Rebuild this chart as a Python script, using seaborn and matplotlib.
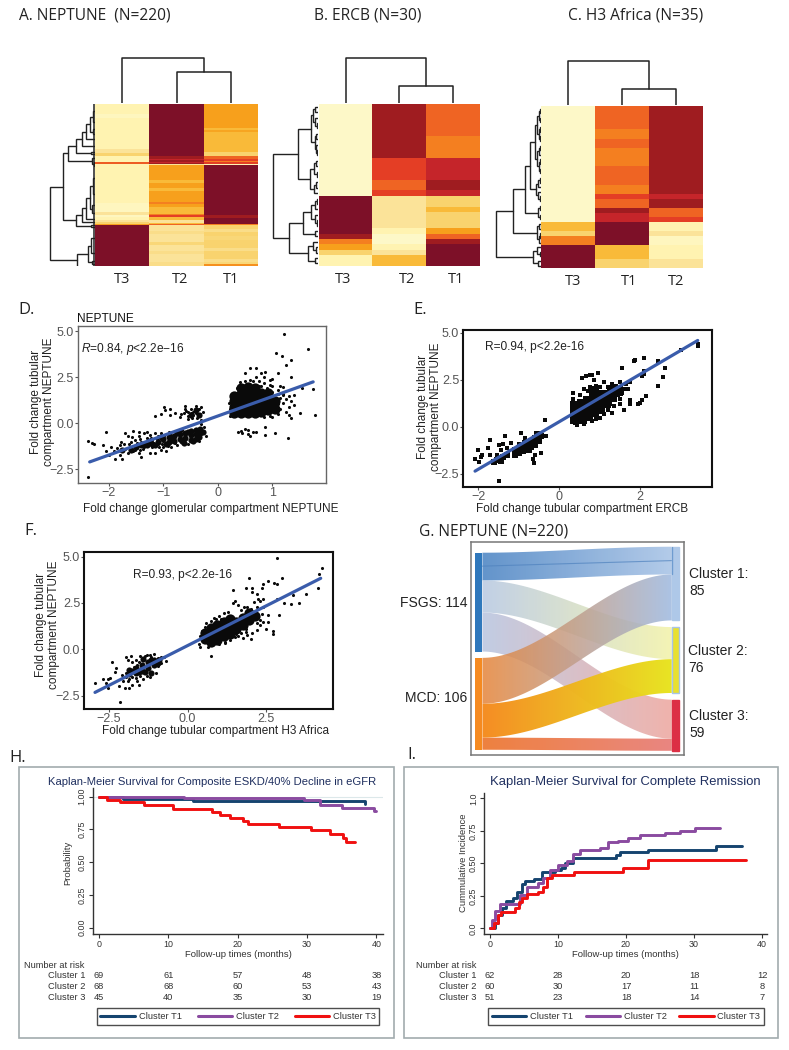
import numpy as np
import pandas as pd
import seaborn as sns
from matplotlib import pyplot as plt
from matplotlib.colors import LinearSegmentedColormap, to_rgb
from matplotlib.lines import Line2D
from matplotlib.patches import PathPatch, Rectangle
from matplotlib.path import Path
from matplotlib.transforms import blended_transform_factory

W, H = 789, 1050

# heatmap columns as (rows, level) runs, top to bottom
a_t3 = [(10, .05), (4, .02), (31, .05), (4, .12), (3, .2), (6, .05), (2, .6), (1, .05), (38, .05), (9, .02), (3, .12),
        (2, .02), (3, .05), (2, .12), (2, .2), (1, .4), (41, 1)]
a_t2 = [(52, 1), (3, .9), (1, .8), (2, .9), (1, .8), (1, .9), (1, .12), (15, .4), (3, .3), (5, .4), (3, .3), (11, .4),
        (2, .5), (3, .4), (7, .3), (1, .5), (2, .68), (3, .3), (3, .12), (1, .3), (1, .58), (6, .12), (3, .15), (8, .12),
        (3, .18), (6, .12), (3, .15), (8, .12), (4, .15)]
a_t1 = [(24, .4), (2, .3), (2, .38), (3, .3), (17, .3), (4, .2), (3, .58), (2, .68), (1, .5), (2, .68), (1, .05), (50, 1),
        (3, .9), (6, 1), (1, .5), (4, .2), (3, .15), (4, .2), (4, .18), (8, .2), (3, .15), (8, .2), (3, .15), (2, .18), (2, .45)]
b_t3 = [(17, 0), (7, 1), (1, .9), (1, .5), (1, .4), (1, .2), (2, .05)]
b_t2 = [(10, .9), (4, .68), (2, .58), (1, .68), (6, .12), (1, .05), (2, 0), (1, .05), (1, .12), (2, .3)]
b_t1 = [(6, .58), (4, .5), (4, .8), (2, .9), (1, .8), (2, .2), (1, .3), (3, .2), (1, .4), (1, .58), (1, .9), (4, 1)]
c_t3 = [(25, 0), (2, .3), (1, .2), (2, .5), (5, 1)]
c_t1 = [(5, .58), (2, .5), (2, .58), (4, .5), (4, .58), (2, .5), (1, .68), (2, .58), (1, .9), (2, .8), (5, 1), (3, .3), (2, .2)]
c_t2 = [(19, .9), (1, .8), (2, .9), (2, .58), (1, .68), (2, .05), (1, .12), (2, .02), (3, .05), (2, .12)]

# dendrograms: (merge height, child, child), a bare number is a leaf of that many rows
col_a = (45, 1, (31, 1, 1))
col_b = (46, 1, (17, 1, 1))
col_c = (44, 1, (16, 1, 1))
row_a = (45,
         (32,
          (27, (19, (13, (9, (5, (2, 14, 8), (2, 6, 4)), 6), 8), (4, 3, 2)), (3, 5, (1, 4, 4))),
          (19, (13, (9, (5, (2, 20, 12), (3, 10, 6)), 5), 2), (4, 3, 2))),
         (18, (7, (4, 20, 10), (3, 5, 2)), (1, 2, 2)))
row_b = (46,
         (20,
          (7, (5, (3, 1, 1), (3, 1, (1, 1, 1))), (3, (2, 1, 1), (2, 1, (1, 1, 1)))),
          (8, (4, (2, 1, 1), (1, 1, 1)), (4, (2, 1, 1), 1))),
         (30,
          (15, (7, (3, (1, 1, 1), 1), (3, 1, (1, 1, 1))), (3, 1, 1)),
          (10, (5, 1, (2, 1, 1)), (3, 1, 1))))
row_c = (45.6,
         (27.6,
          (16,
           (11,
            (6, (4, (2, (1, 1, 1), (1, 1, 1)), (2, (1, 1, 1), (1, 1, 1))), (4, (2, (1, 1, 1), 1), (2, (1, 1, 1), (1, 1, 1)))),
            (5, (3, (1, 1, 1), 1), (3, 1, (1, 1, 1)))),
           (3, (1, 1, 1), (1, 1, 1))),
          (4, (2, 1, 1), (2, (1, 1, 1), 1))),
         (8, (4, 1, (1, 1, 1)), (3, 1, 1)))

# scatter clouds, hand read. core = solid part of the cloud drawn with wider dots
d_core = [(.3, .55), (.3, .9), (.3, 1.2), (.3, 1.5), (.42, .55), (.42, .9), (.42, 1.25), (.42, 1.6), (.42, 1.9), (.55, .55),
          (.55, .9), (.55, 1.25), (.55, 1.65), (.55, 1.95), (.68, .55), (.68, .9), (.68, 1.25), (.68, 1.6), (.68, 1.9), (.8, .6),
          (.8, .95), (.8, 1.3), (.8, 1.65), (.93, .7), (.93, 1.0), (.93, 1.35), (.93, 1.65), (1.05, .75), (1.05, 1.2)]
d_mid = [(-.32, -.3), (-.32, -.55), (-.4, -.35), (-.4, -.6), (-.4, -.85), (-.5, -.4), (-.5, -.65), (-.5, -.9), (-.6, -.55),
         (-.6, -.8), (-.7, -.6), (-.7, -.85), (-.8, -.7), (-.8, -.95), (-.9, -.75), (-.9, -1.0), (-1.0, -.85), (-1.1, -1.0),
         (-.28, -.45), (-.62, -1.05), (-1.2, -1.1), (-1.35, -1.15), (-1.5, -1.3), (-1.75, -1.45), (-.35, -.75), (-.45, -.95),
         (-.55, -.45), (-.65, -.95), (-.75, -.55), (-.85, -.9), (-.95, -1.1), (-1.05, -.75), (-1.15, -1.2), (-1.25, -.95),
         (-1.3, -1.2), (-1.4, -1.2), (-1.6, -1.45), (-.5, .45), (-.4, .7), (-.35, .45)]
d_small = [(-2.38, -.95), (-2.3, -1.05), (-2.28, -1.15), (-2.38, -2.9), (-2.05, -.5), (-2.1, -1.2), (-2.05, -1.5), (-2.0, -1.7),
           (-1.95, -1.3), (-1.9, -1.5), (-1.88, -1.95), (-1.8, -1.7), (-1.8, -1.2), (-1.78, -1.0), (-1.75, -1.95), (-1.7, -.55),
           (-1.7, -1.4), (-1.65, -1.6), (-1.65, -.7), (-1.6, -1.0), (-1.6, -1.3), (-1.55, -.4), (-1.55, -1.5), (-1.52, -.9),
           (-1.5, -1.2), (-1.45, -.5), (-1.45, -.7), (-1.45, -1.6), (-1.4, -1.0), (-1.4, -1.85), (-1.38, -1.4), (-1.35, -.55),
           (-1.35, -1.3), (-1.3, -.8), (-1.3, -.5), (-1.28, -1.1), (-1.25, -1.6), (-1.25, -.65), (-1.2, -1.3), (-1.2, -.9),
           (-1.15, -.55), (-1.15, -1.6), (-1.1, -.7), (-1.1, -1.15), (-1.05, -1.45), (-1.05, -.55), (-1.0, -.95), (-1.0, -1.3),
           (-.95, -1.5), (-.9, -.5), (-.9, -1.1), (-.85, -1.3), (-.85, -.7), (-.75, -1.2), (-.7, -.4), (-.65, -.35), (-.55, -1.1),
           (-.3, -.05), (-.25, -.2), (-.22, -.7), (-.35, -.95), (-1.58, -.75), (-1.48, -1.05), (-1.42, -.85), (-1.32, -1.05),
           (-1.22, -.8), (-1.18, -1.05), (-1.12, -.85), (-1.08, -1.3), (-.98, -.7), (-.92, -1.25), (-.78, -1.05), (-.72, -.45),
           (-1.85, -1.35), (-1.72, -1.15), (-1.62, -1.15), (-1.52, -1.45), (-1.42, -1.45), (-1.02, -1.15), (-.88, -.6),
           (-1.15, .4), (-1.05, .5), (-.98, .9), (-.97, .7), (-.88, .75), (-.87, .45), (-.78, .55), (-.7, .35), (-.68, .5),
           (-.62, .55), (-.6, .95), (-.6, .8), (-.58, .65), (-.55, .4), (-.55, .25), (-.5, .55), (-.5, .8), (-.48, .3), (-.45, .45),
           (-.42, .7), (-.4, .95), (-.4, .55), (-.38, .3), (-.35, .8), (-.33, .5), (-.3, .9), (-.28, .6), (-.3, .2), (-.55, .6),
           (-.45, .6),
           (1.22, 4.85), (1.65, 4.05), (1.07, 3.8), (1.17, 3.65), (1.25, 3.15), (1.35, 3.45), (.6, 3.0), (.7, 3.0), (.8, 2.75),
           (.87, 2.8), (.5, 2.75), (1.1, 2.75), (1.0, 2.4), (1.35, 2.5), (1.55, 1.9), (1.75, 1.85), (1.78, .45), (1.5, .55),
           (1.35, .3), (1.3, 1.5), (1.4, 1.55), (1.2, 1.6), (1.28, -.8), (1.05, -.55), (.87, -.65), (.87, -.2), (.38, -.5),
           (.42, -.4), (.5, -.3), (.55, -.6), (.6, -.7), (.65, -.5), (.7, -.45), (.45, -.55), (.55, -.35), (.3, 1.6), (.35, 1.9),
           (.45, 2.1), (.5, 2.3), (.55, 2.05), (.65, 2.3), (.7, 2.5), (.75, 2.05), (.85, 2.2), (.9, 1.9), (.95, 2.1), (.85, 2.5),
           (1.0, 1.7), (1.1, 1.8), (1.15, .8), (1.2, 1.1), (1.1, .5), (1.0, .35), (1.25, .6), (1.3, .9), (1.3, .45), (1.15, 2.0),
           (1.2, 1.95), (1.4, 1.0), (1.25, 1.3), (.22, .4), (.22, .8), (.95, .4), (.85, .35), (1.15, 1.35), (1.1, 1.05), (1.35, 1.2),
           (.75, 2.3), (.6, 2.35), (.4, 2.25), (.95, 2.35), (1.2, 1.55), (1.1, 1.6), (1.0, 2.0), (.8, 2.0), (.2, 1.1)]
e_core = [(.4, .4), (.4, .75), (.4, 1.1), (.55, .4), (.55, .8), (.55, 1.2), (.7, .6), (.7, 1.0), (.7, 1.4), (.85, .8), (.85, 1.2),
          (.85, 1.65), (1.0, .95), (1.0, 1.35), (1.0, 1.7), (1.15, 1.3), (1.15, 1.7), (1.3, 1.6), (1.3, 1.95), (1.45, 1.9), (.85, 1.9)]
e_mid = [(-.45, -.5), (-.5, -.75), (-.6, -.6), (-.6, -.95), (-.7, -.75), (-.7, -1.05), (-.8, -.85), (-.8, -1.15), (-.9, -1.0),
         (-.9, -1.3), (-1.0, -1.1), (-1.0, -1.4), (-1.1, -1.25), (-1.1, -1.5), (-1.4, -1.6), (-1.45, -1.8), (-1.55, -1.75),
         (-1.6, -1.85), (-1.3, -1.5), (-.55, -.4), (-.65, -.85), (-.75, -1.25), (-.85, -.85), (-.95, -1.15), (-1.05, -1.3)]
e_small = [(-2.08, -1.7), (-2.0, -1.25), (-1.97, -1.85), (-1.93, -1.6), (-1.9, -1.5), (-1.77, -1.1), (-1.7, -.7), (-1.7, -1.5),
           (-1.55, -1.5), (-1.5, -.95), (-1.45, -1.2), (-1.4, -.9), (-1.5, -2.85), (-1.35, -.5), (-1.2, -.85), (-1.3, -1.1),
           (-1.0, -.9), (-.95, -.3), (-.6, -1.5), (-.65, -1.7), (-.62, -1.9), (-.45, -1.4), (-.35, .35), (-.33, -.5), (-.75, -1.3),
           (-.85, -.6), (.33, 1.8), (.33, 1.5), (.35, 1.2), (.38, .2), (.45, .1), (.55, 2.6), (.65, 2.7), (.75, 2.75), (.8, 2.75),
           (.85, 2.5), (.95, 2.85), (.9, .4), (1.0, .5), (1.1, .7), (1.2, .9), (1.3, .75), (1.25, 1.2), (1.35, 1.1), (1.45, 1.7),
           (1.5, 1.2), (1.6, .9), (1.65, 2.3), (1.7, 2.0), (1.75, 1.2), (1.75, 1.45), (1.55, 3.15), (1.85, 3.5), (1.88, 3.55),
           (2.1, 3.65), (1.75, 2.4), (2.05, 2.7), (2.1, 2.8), (2.0, 1.3), (2.05, 1.45), (1.95, 1.2), (2.15, 1.65), (2.1, 3.0),
           (2.45, 2.2), (2.55, 2.65), (2.6, 3.15), (2.45, 3.5), (3.0, 4.1), (3.42, 4.3), (3.42, 4.4), (1.4, 2.2), (1.5, 2.4),
           (1.3, 2.3), (1.2, 2.1), (1.6, 2.0), (.7, 1.9), (.9, 2.2), (1.1, 2.4), (.5, 1.7), (.6, 2.0), (.6, .15), (.8, .3),
           (1.0, 2.1), (.75, 2.1), (1.5, 1.5), (1.55, 1.8)]
f_core = [(.55, .55), (.55, .9), (.75, .4), (.75, .8), (.75, 1.15), (.95, .5), (.95, .9), (.95, 1.3), (1.15, .7), (1.15, 1.1),
          (1.15, 1.5), (1.35, .85), (1.35, 1.25), (1.35, 1.65), (1.55, 1.1), (1.55, 1.5), (1.75, 1.3), (1.75, 1.7), (1.95, 1.6),
          (1.95, 1.95), (2.15, 1.8)]
f_mid = [(-.9, -.55), (-1.05, -.55), (-1.05, -.85), (-1.25, -.7), (-1.25, -1.0), (-1.45, -.85), (-1.45, -1.15), (-1.65, -1.0),
         (-1.65, -1.3), (-1.85, -1.1), (-1.85, -1.35), (-1.4, -.5), (-1.15, -1.3), (-.95, -.75), (-1.15, -.6), (-1.35, -1.2),
         (-1.55, -1.2), (-1.75, -1.15)]
f_small = [(-2.94, -1.8), (-2.68, -1.6), (-2.52, -1.6), (-2.6, -1.8), (-2.47, -1.55), (-2.52, -2.1), (-2.39, -.7), (-2.26, -1.0),
           (-2.29, -1.2), (-2.15, -2.85), (-2.17, -2.0), (-2.08, -1.4), (-2.05, -1.7), (-2.0, -2.1), (-1.95, -1.25), (-1.95, -.4),
           (-1.9, -.6), (-1.9, -1.7), (-1.85, -2.1), (-1.8, -.35), (-1.75, -1.9), (-1.75, -.7), (-1.65, -.55), (-1.6, -1.7),
           (-1.55, -1.9), (-1.5, -.35), (-1.4, -1.6), (-1.3, -.3), (-1.2, -.3), (-1.2, -1.5), (-1.05, -.25), (-.95, -.9), (-.85, -.75),
           (-.75, -.4), (-.7, -.65), (-.85, -.4), (-1.55, -.7), (-1.0, -1.3), (-1.95, -1.5), (-1.85, -1.6), (-1.75, -1.5),
           (-1.65, -1.55), (-1.5, -1.45), (-1.6, -.85), (-1.7, -.95), (-1.35, -.35), (-1.15, -.4), (-.95, -.45), (-1.3, -1.45),
           (.75, -.35), (.35, .3), (.4, .7), (.45, 1.0), (.55, 1.2), (.6, 1.4), (.75, 1.55), (.85, 1.7), (1.0, 1.8), (1.05, 1.65),
           (1.0, .3), (1.2, .35), (1.35, .5), (1.5, .65), (1.6, .7), (1.7, .9), (1.9, .8), (2.0, .55), (2.05, .9), (1.85, 1.1),
           (2.2, 1.05), (2.3, 1.3), (2.5, 1.1), (2.55, 1.5), (2.55, 1.85), (2.4, 2.3), (2.3, 2.6), (2.25, 2.7), (2.4, 2.7), (2.1, 2.55),
           (1.9, 2.3), (1.7, 2.1), (1.6, 2.4), (1.5, 2.6), (1.45, 2.5), (1.45, 3.2), (2.2, 3.0), (2.05, 3.3), (1.85, 3.3), (1.95, 3.85),
           (2.4, 3.5), (2.55, 3.7), (2.75, 3.6), (2.85, 3.5), (2.9, 1.85), (3.0, 3.85), (2.85, 2.7), (3.05, 2.5), (3.3, 2.45),
           (3.35, 2.95), (3.55, 2.5), (3.75, 3.0), (4.14, 3.3), (4.17, 4.05), (4.27, 4.4), (2.85, 4.9), (2.35, 3.3), (2.05, 3.1),
           (2.7, 1.0), (2.7, .85), (2.4, 1.5), (2.2, 2.3), (2.0, 2.15), (1.75, .6), (1.3, 2.0), (.4, .15), (.65, .15), (1.15, 1.95),
           (2.3, 1.6), (2.35, 1.9), (2.2, 1.4), (1.8, 2.3), (.9, 1.65), (1.2, .4), (1.55, .85), (1.85, .95)]

# fitted lines: end points
d_line = ([-2.35, 1.75], [-2.1, 2.25])
e_line = ([-2.08, 3.42], [-2.35, 4.6])
f_line = ([-2.94, 4.23], [-2.32, 3.83])

# sankey patients, rows FSGS / MCD, columns cluster 1 / 2 / 3
flows = [[32, 37, 45], [53, 39, 14]]
left_names = ['FSGS: 114', 'MCD: 106']

# Kaplan-Meier steps
h_t1_t = [0, 3.5, 13.5, 38.3, 38.4]
h_t1_p = [1, .985, .97, .945, .945]
h_t2_t = [0, 12.2, 29.5, 31.8, 35, 39.7, 39.9]
h_t2_p = [1, .987, .972, .936, .91, .893, .893]
h_t3_t = [0, 1.1, 3, 6.5, 10.6, 16.3, 17.4, 18.9, 20.8, 21.5, 26, 30.5, 33.3, 35.2, 35.6, 36.9]
h_t3_p = [1, .977, .957, .934, .908, .885, .863, .84, .814, .791, .768, .743, .715, .682, .656, .656]
i_t1_t = [0, .7, 1.2, 1.7, 2.35, 3.4, 4.0, 4.65, 5.15, 6.5, 7.6, 9.6, 10.5, 11, 12.25, 18.6, 19.1, 23.3, 33.3, 37]
i_t1_p = [0, .04, .1, .155, .21, .23, .28, .34, .36, .38, .435, .45, .46, .505, .54, .565, .585, .6, .63, .63]
i_t2_t = [0, .25, .75, 1.4, 4.4, 5.4, 7.1, 7.8, 8.8, 10, 11.3, 12.25, 13.2, 16.2, 17.3, 18.9, 20.3, 22, 25.7, 28, 30.1, 33.8]
i_t2_p = [0, .065, .13, .187, .255, .32, .345, .385, .45, .49, .52, .575, .6, .62, .66, .675, .695, .715, .735, .75, .775, .775]
i_t3_t = [0, .6, 1.2, 1.6, 3.7, 4.3, 4.7, 5.4, 7.1, 7.8, 8.4, 9.1, 12.3, 19.5, 23.3, 37.6]
i_t3_p = [0, .04, .1, .125, .155, .2, .235, .264, .28, .315, .385, .41, .435, .46, .525, .525]
risk_months = [0, 10, 20, 30, 40]
h_risk = [[69, 61, 57, 48, 38], [68, 68, 60, 53, 43], [45, 40, 35, 30, 19]]
i_risk = [[62, 28, 20, 18, 12], [60, 30, 17, 11, 8], [51, 23, 18, 14, 7]]
risk_names = ['Cluster 1', 'Cluster 2', 'Cluster 3']

sns.set_theme(style='white')
plt.rcParams['font.family'] = ['Liberation Sans', 'DejaVu Sans']
plt.rcParams['mathtext.fontset'] = 'custom'
plt.rcParams['mathtext.it'] = 'Liberation Sans:italic'
plt.rcParams['mathtext.rm'] = 'Liberation Sans'

fig = plt.figure(figsize=(W / 100, H / 100), dpi=100, facecolor='white')

heat_cmap = LinearSegmentedColormap.from_list('heat', [
    (0, '#FDF8C8'), (.05, '#FFF3B0'), (.12, '#FBE298'), (.2, '#F9D36E'), (.3, '#F9B938'), (.4, '#F7A01C'), (.5, '#F48020'),
    (.58, '#EF6423'), (.68, '#E53E25'), (.8, '#C5252A'), (.9, '#A01C20'), (1, '#7D1028')])
KM_COLORS = ['#15446F', '#8A4BA0', '#F01010']
BLUE_FIT = '#3A5CAB'
GREY_TXT = '#555555'


def px_axes(x0, y0, x1, y1):
    return fig.add_axes([x0 / W, 1 - y1 / H, (x1 - x0) / W, (y1 - y0) / H])


def put(x, y, s, **kw):
    kw.setdefault('va', 'center')
    fig.text(x / W, 1 - y / H, s, **kw)


def expand(runs):
    return np.repeat([r[1] for r in runs], [r[0] for r in runs])


def tree_leaf_h(node):
    return node[0] if isinstance(node, tuple) else 0


def draw_tree(ax, node, start=0):
    # returns position of the node, number of rows used
    if not isinstance(node, tuple):
        if node > 1:
            ax.plot([1, 1], [start, start + node], color='#222222', lw=1.1, solid_capstyle='butt')
        return start + node / 2, node
    pos_a, n_a = draw_tree(ax, node[1], start)
    pos_b, n_b = draw_tree(ax, node[2], start + n_a)
    h = node[0]
    ax.plot([tree_leaf_h(node[1]), h, h, tree_leaf_h(node[2])], [pos_a, pos_a, pos_b, pos_b], color='#222222', lw=1.0,
            solid_joinstyle='miter')
    return (pos_a + pos_b) / 2, n_a + n_b


def heat_panel(columns, names, row_tree, col_tree, box, tick_pos, root_y):
    x0, y0, x1, y1 = box
    ax = px_axes(x0, y0, x1, y1)
    df = pd.DataFrame({n: expand(c) for n, c in zip(names, columns)})
    sns.heatmap(df, ax=ax, cmap=heat_cmap, vmin=0, vmax=1, cbar=False, yticklabels=False)
    ax.set_xticks(tick_pos)
    ax.set_xticklabels(names, fontsize=10.5, family='Open Sans', rotation=0, color='#222222')
    ax.tick_params(axis='x', length=0, pad=4)
    # rows
    root = row_tree[0]
    left = px_axes(x0 - root - 1, y0, x0 - 0.5, y1)
    draw_tree(left, row_tree)
    left.set_xlim(root + 1, 0)
    left.set_ylim(len(df), 0)
    left.axis('off')
    # columns
    top = px_axes(x0, root_y - 1, x1, y0 - 1)
    sub = col_tree[2]
    top.plot([1.5, 1.5, 2.5, 2.5], [0, sub[0], sub[0], 0], color='#222222', lw=1.1)
    top.plot([.5, .5, 2, 2], [0, col_tree[0], col_tree[0], sub[0]], color='#222222', lw=1.1)
    top.set_xlim(0, 3)
    top.set_ylim(0, col_tree[0] + 1)
    top.axis('off')


heat_panel([a_t3, a_t2, a_t1], ['T3', 'T2', 'T1'], row_a, col_a, (95, 104, 258, 266), [.5, 1.57, 2.5], 58)
heat_panel([b_t3, b_t2, b_t1], ['T3', 'T2', 'T1'], row_b, col_b, (318.7, 104, 480, 266), [.45, 1.64, 2.56], 58)
heat_panel([c_t3, c_t1, c_t2], ['T3', 'T1', 'T2'], row_c, col_c, (541.3, 106.3, 703.3, 268), [.59, 1.62, 2.5], 60.7)

put(19, 16, 'A. NEPTUNE  (N=220)', fontsize=11.2, family='Open Sans', color='#222222')
put(314, 16, 'B. ERCB (N=30)', fontsize=11.2, family='Open Sans', color='#222222')
put(568, 16, 'C. H3 Africa (N=35)', fontsize=11.2, family='Open Sans', color='#222222')


def scatter_panel(box, xlim, ylim, xticks, xfmt, core, mid, small, line, frame, xlabel, xlabel_at, ylabel_at, marker='o',
                  small_size=5, mid_size=20):
    ax = px_axes(*box)
    for pts, size in [(core, 55), (mid, mid_size), (small, small_size)]:
        sns.scatterplot(x=[p[0] for p in pts], y=[p[1] for p in pts], ax=ax, s=size, color='#0a0a0a', marker=marker,
                        linewidth=0, legend=False)
    sns.lineplot(x=line[0], y=line[1], ax=ax, color=BLUE_FIT, lw=2.3, legend=False, errorbar=None)
    ax.set_xlim(*xlim)
    ax.set_ylim(*ylim)
    ax.set_xticks(xticks)
    ax.set_xticklabels([xfmt % t if t >= 0 else '\u2212' + xfmt % -t for t in xticks])
    ax.set_yticks([-2.5, 0, 2.5, 5])
    ax.set_yticklabels(['\u22122.5', '0.0', '2.5', '5.0'])
    ax.tick_params(length=2.5, width=.8, color=GREY_TXT, labelcolor=GREY_TXT, labelsize=9, pad=.5, bottom=True, left=True)
    for s in ax.spines.values():
        s.set_visible(True)
        s.set_color(frame[0])
        s.set_linewidth(frame[1])
    ax.set_xlabel(xlabel, fontsize=8.45, color='#222222')
    ax.xaxis.set_label_coords(xlabel_at[0] / W, 1 - xlabel_at[1] / H, transform=fig.transFigure)
    ax.set_ylabel('Fold change tubular\ncompartment NEPTUNE', fontsize=8.45, color='#222222', linespacing=1.15)
    ax.yaxis.set_label_coords(ylabel_at[0] / W, 1 - ylabel_at[1] / H, transform=fig.transFigure)
    return ax


scatter_panel((77.7, 326.3, 325.7, 482.7), (-2.57, 1.98), (-3.23, 5.27), [-2, -1, 0, 1], '%d', d_core, d_mid, d_small, d_line,
              ('#666666', 1.0), 'Fold change glomerular compartment NEPTUNE', (211, 502.5), (55, 402))
scatter_panel((463.3, 330.3, 712.3, 487.3), (-2.37, 3.78), (-3.21, 5.14), [-2, 0, 2], '%d', e_core, e_mid, e_small, e_line,
              ('#111111', 1.5), 'Fold change tubular compartment ERCB', (582, 503.5), (442, 407), marker='s', small_size=9,
              mid_size=22)
scatter_panel((84.3, 552.3, 333.3, 709.3), (-3.28, 4.63), (-3.23, 5.23), [-2.5, 0, 2.5], '%.1f', f_core, f_mid, f_small, f_line,
              ('#111111', 1.5), 'Fold change tubular compartment H3 Africa', (215, 725), (60, 625))

put(18, 310, 'D.', fontsize=12, family='Open Sans', color='#222222')
put(413, 310, 'E.', fontsize=12, family='Open Sans', color='#222222')
put(24, 531, 'F.', fontsize=12, family='Open Sans', color='#222222')
put(77, 319, 'NEPTUNE', fontsize=8.6, color='#111111')
put(81, 349, '$\\mathit{R}$=0.84, $\\mathit{p}$<2.2e\u221216', fontsize=8.6, color='#222222')
put(485, 347, 'R=0.94, p<2.2e-16', fontsize=8.6, color='#222222')
put(133, 575, 'R=0.93, p<2.2e-16', fontsize=8.6, color='#222222')

# sankey
put(419, 531, 'G. NEPTUNE (N=220)', fontsize=11.2, family='Open Sans', color='#222222')
ax_g = px_axes(470.7, 541.7, 683.7, 754.7)
RIB_L, RIB_R = .055, .944
left_top = 12.7
right_top = 5.8
left_gap, right_gap = 7.3, 7.7
flows_arr = np.array(flows)
left_starts = [left_top, left_top + flows_arr[0].sum() + left_gap]
right_starts = []
y_pos = right_top
for c in range(3):
    right_starts.append(y_pos)
    y_pos += flows_arr[:, c].sum() + right_gap
rib_colors = {
    (0, 0): ('#5B8FC9', '#AFC8E8', .95), (0, 1): ('#B7C8E2', '#F2F2A8', .85), (0, 2): ('#B7C4DF', '#EDA69E', .85),
    (1, 0): ('#E5853A', '#9DB8DE', .85), (1, 1): ('#F58A1E', '#E8E31C', .97), (1, 2): ('#EE7A35', '#E8807A', .95)}
draw_order = [(0, 0), (1, 2), (0, 1), (0, 2), (1, 0), (1, 1)]
left_y = {}
right_y = {}
for i in range(2):
    y_pos = left_starts[i]
    for c in range(3):
        left_y[(i, c)] = y_pos
        y_pos += flows[i][c]
for c in range(3):
    y_pos = right_starts[c]
    for i in range(2):
        right_y[(i, c)] = y_pos
        y_pos += flows[i][c]
ts = np.linspace(0, 1, 60)
curve = ts * ts * (3 - 2 * ts)
total_h = 245.7
for key in draw_order:
    i, c = key
    thick = flows[i][c]
    top_edge = left_y[key] + (right_y[key] - left_y[key]) * curve
    xs = RIB_L + (RIB_R - RIB_L) * ts
    verts = np.vstack([np.column_stack([xs, top_edge]), np.column_stack([xs[::-1], top_edge[::-1] + thick]),
                       [[xs[0], top_edge[0]]]])
    c0, c1, a = rib_colors[key]
    grad = np.zeros((1, 64, 4))
    for k in range(3):
        grad[0, :, k] = np.linspace(to_rgb(c0)[k], to_rgb(c1)[k], 64)
    grad[0, :, 3] = a
    im = ax_g.imshow(grad, extent=(RIB_L, RIB_R, total_h, 0), aspect='auto', interpolation='bilinear', zorder=2)
    im.set_clip_path(PathPatch(Path(verts), transform=ax_g.transData))
# thin seam inside the first ribbon
ax_g.plot([RIB_L, RIB_R], [left_y[(0, 0)] + 15.5, right_y[(0, 0)] + 16], color='#4F82BE', lw=.8, alpha=.7, zorder=3)
node_l = [('#2F78BC', left_starts[0], flows_arr[0].sum()), ('#F58A20', left_starts[1], flows_arr[1].sum())]
for col, y_s, n in node_l:
    ax_g.add_patch(Rectangle((.02, y_s), RIB_L - .02, n, color=col, lw=0, zorder=4))
node_r = [('#AEC8E8', '#AEC8E8'), ('#E8E030', '#A9C4E6'), ('#DC2F45', '#DC2F45')]
for c, (fc, ec) in enumerate(node_r):
    ax_g.add_patch(Rectangle((RIB_R, right_starts[c]), .036, flows_arr[:, c].sum(), facecolor=fc, edgecolor=ec, lw=1, zorder=4))
ax_g.plot([RIB_R, RIB_R], [right_starts[0], right_starts[0] + flows[0][0]], color='#6F9CD0', lw=1, zorder=5)
ax_g.set_xlim(0, 1)
ax_g.set_ylim(total_h, 0)
ax_g.set_xticks([])
ax_g.set_yticks([])
for s in ax_g.spines.values():
    s.set_visible(True)
    s.set_color('#777777')
    s.set_linewidth(1.1)
put(468, 603, left_names[0], fontsize=10, ha='right', color='#222222')
put(467, 698, left_names[1], fontsize=10, ha='right', color='#222222')
cluster_text = [(689, 574, 'Cluster 1:'), (689, 591, '85'), (688, 651, 'Cluster 2:'), (688, 668, '76'),
                (689, 716, 'Cluster 3:'), (689, 733, '59')]
for x_t, y_t, s_t in cluster_text:
    put(x_t, y_t, s_t, fontsize=10, color='#222222')


def km_panel(box, xlim, ylim, curves, risk, yticks, yticklabels, ylabel, title, title_x, title_size, outer, ylabel_x, names_x,
             head_x, legend_box, xlabel_x):
    fig.add_artist(Rectangle((outer[0] / W, 1 - outer[3] / H), (outer[2] - outer[0]) / W, (outer[3] - outer[1]) / H, fill=False,
                             edgecolor='#A2ABAE', lw=1.2, transform=fig.transFigure))
    ax = px_axes(*box)
    handles = []
    for (t, p), name, col in zip(curves, ['Cluster T1', 'Cluster T2', 'Cluster T3'], KM_COLORS):
        sns.lineplot(x=t, y=p, ax=ax, color=col, lw=2.1, drawstyle='steps-post', errorbar=None, legend=False, estimator=None)
        handles.append(Line2D([], [], color=col, lw=2.2, label=name))
    ax.set_xlim(*xlim)
    ax.set_ylim(*ylim)
    ax.set_xticks(risk_months)
    ax.set_yticks(yticks)
    ax.set_yticklabels(yticklabels, rotation=90, va='center')
    ax.tick_params(length=3, width=.8, color='#333333', labelcolor='#333333', labelsize=6.4, pad=1.5, bottom=True, left=True)
    sns.despine(ax=ax)
    for s in ['left', 'bottom']:
        ax.spines[s].set_color('#333333')
        ax.spines[s].set_linewidth(1)
    ax.set_xlabel('Follow-up times (months)', fontsize=6.8, color='#333333')
    ax.xaxis.set_label_coords(xlabel_x / W, 1 - 950 / H, transform=fig.transFigure)
    ax.set_ylabel(ylabel, fontsize=6.8, color='#333333')
    ax.yaxis.set_label_coords(ylabel_x / W, 1 - 863 / H, transform=fig.transFigure)
    put(title_x, 782, title, fontsize=title_size, color='#1F2F5F', ha='center')
    put(head_x, 965, 'Number at risk', fontsize=6.7, color='#333333')
    blend = blended_transform_factory(ax.transData, fig.transFigure)
    for r, (name, row, y_r) in enumerate(zip(risk_names, risk, [976, 986.7, 997.3])):
        put(names_x, y_r, name, fontsize=6.7, color='#333333', ha='right')
        for m, v in zip(risk_months, row):
            ax.text(m, 1 - y_r / H, str(v), transform=blend, fontsize=6.7, color='#333333', ha='center', va='center')
    leg = fig.legend(handles=handles, loc='center', ncol=3, mode='expand', frameon=True, fancybox=False, edgecolor='#222222',
                     fontsize=6.7, handlelength=3.7, columnspacing=.6, handletextpad=.4, borderpad=.4, labelcolor='#333333',
                     borderaxespad=0,
                     bbox_to_anchor=(legend_box[0] / W, 1 - 1025.3 / H, (legend_box[1] - legend_box[0]) / W, 17.6 / H),
                     bbox_transform=fig.transFigure)
    leg.get_frame().set_linewidth(1)
    return ax


ax_h = km_panel((92.7, 788, 382.7, 934), (-.91, 40.9), (-.048, 1.066), [(h_t1_t, h_t1_p), (h_t2_t, h_t2_p), (h_t3_t, h_t3_p)],
                h_risk, [0, .25, .5, .75, 1], ['0.00', '0.25', '0.50', '0.75', '1.00'], 'Probability',
                'Kaplan-Meier Survival for Composite ESKD/40% Decline in eGFR', 212, 8.1, (19, 767, 394, 1038), 72, 85, 24,
                (96.7, 379.3), 238)
ax_h.axhline(1, color='#DCE8EA', lw=.8, zorder=0)
km_panel((484.3, 792.7, 766.7, 934), (-.84, 40.7), (-.044, 1.043), [(i_t1_t, i_t1_p), (i_t2_t, i_t2_p), (i_t3_t, i_t3_p)],
         i_risk, [0, .25, .5, .75, 1], ['0.0', '0.25', '0.50', '0.75', '1.0'], 'Cummulative Incidence',
         'Kaplan-Meier Survival for Complete Remission', 625.5, 9.4, (404, 767, 778, 1038), 468, 476.7, 415.7,
         (488.3, 764), 625.7)
put(9, 758, 'H.', fontsize=12, family='Open Sans', color='#222222')
put(407, 755, 'I.', fontsize=12, family='Open Sans', color='#222222')

fig.savefig('out.png', dpi=100)
